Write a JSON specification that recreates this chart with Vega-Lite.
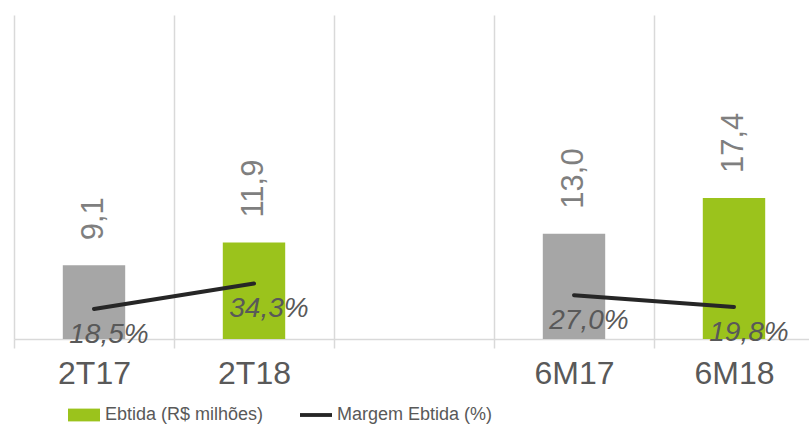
{
  "$schema": "https://vega.github.io/schema/vega-lite/v6.json",
  "width": 800,
  "height": 324,
  "autosize": {"type": "none"},
  "padding": {"left": 14, "top": 15, "right": 0, "bottom": 87},
  "background": "white",
  "config": {
    "view": {"stroke": null},
    "font": "Liberation Sans"
  },
  "data": {
    "values": [
      {"cat": "2T17", "ebitda": 9.1, "ebitda_lbl": "9,1", "margem": 18.5, "margem_lbl": "18,5%", "grupo": "2T", "ano": "17", "serie_bar": "Ebtida (R$ milhões)", "serie_line": "Margem Ebtida (%)"},
      {"cat": "2T18", "ebitda": 11.9, "ebitda_lbl": "11,9", "margem": 34.3, "margem_lbl": "34,3%", "grupo": "2T", "ano": "18", "serie_bar": "Ebtida (R$ milhões)", "serie_line": "Margem Ebtida (%)"},
      {"cat": "6M17", "ebitda": 13.0, "ebitda_lbl": "13,0", "margem": 27.0, "margem_lbl": "27,0%", "grupo": "6M", "ano": "17", "serie_bar": "Ebtida (R$ milhões)", "serie_line": "Margem Ebtida (%)"},
      {"cat": "6M18", "ebitda": 17.4, "ebitda_lbl": "17,4", "margem": 19.8, "margem_lbl": "19,8%", "grupo": "6M", "ano": "18", "serie_bar": "Ebtida (R$ milhões)", "serie_line": "Margem Ebtida (%)"}
    ]
  },
  "encoding": {
    "x": {
      "field": "cat",
      "type": "nominal",
      "sort": null,
      "scale": {"domain": ["2T17", "2T18", " ", "6M17", "6M18"], "paddingInner": 0, "paddingOuter": 0},
      "axis": {
        "title": null,
        "labelAngle": 0,
        "labelFontSize": 32,
        "labelColor": "#595959",
        "labelFont": "Liberation Sans",
        "labelPadding": 10,
        "domainColor": "#D9D9D9",
        "domainWidth": 1.5,
        "tickColor": "#D9D9D9",
        "tickSize": 9,
        "tickWidth": 1.5,
        "grid": true,
        "gridColor": "#D9D9D9",
        "gridWidth": 1.5,
        "tickBand": "extent"
      }
    }
  },
  "layer": [
    {
      "layer": [
        {
          "mark": {"type": "bar", "width": {"band": 0.39}},
          "encoding": {
            "y": {"field": "ebitda", "type": "quantitative", "scale": {"domain": [0, 40]}, "axis": null},
            "color": {
              "condition": {"test": "datum.ano === '17'", "value": "#A6A6A6"},
              "field": "serie_bar",
              "type": "nominal",
              "scale": {"domain": ["Ebtida (R$ milhões)", "Margem Ebtida (%)"], "range": ["#9BC31C", "#262626"]},
              "legend": {
                "orient": "none",
                "legendX": 54,
                "legendY": 384,
                "direction": "horizontal",
                "title": null,
                "symbolSize": 1024,
                "labelFontSize": 18,
                "labelLimit": 400,
                "labelFont": "Liberation Sans",
                "labelColor": "#595959",
                "labelOffset": 5,
                "columnPadding": 36,
                "padding": 0,
                "encode": {
                  "symbols": {
                    "update": {
                      "shape": {"signal": "datum.value === 'Margem Ebtida (%)' ? 'M-1,-0.12H1V0.12H-1Z' : 'M-1,-0.4H1V0.4H-1Z'"},
                      "fill": {"signal": "datum.value === 'Margem Ebtida (%)' ? '#262626' : '#9BC31C'"},
                      "stroke": {"value": "transparent"},
                      "strokeWidth": {"value": 0},
                      "opacity": {"value": 1}
                    }
                  }
                }
              }
            }
          }
        },
        {
          "mark": {"type": "text", "angle": 270, "align": "left", "baseline": "middle", "dx": 25, "fontSize": 31, "font": "Liberation Sans", "color": "#7F7F7F"},
          "encoding": {
            "y": {"field": "ebitda", "type": "quantitative", "scale": {"domain": [0, 40]}, "axis": null},
            "text": {"field": "ebitda_lbl"}
          }
        }
      ]
    },
    {
      "layer": [
        {
          "mark": {"type": "line", "strokeWidth": 4, "strokeCap": "round"},
          "encoding": {
            "y": {"field": "margem", "type": "quantitative", "scale": {"domain": [0, 200]}, "axis": null},
            "detail": {"field": "grupo"},
            "color": {"field": "serie_line", "type": "nominal"}
          }
        },
        {
          "mark": {"type": "text", "dx": 15, "dy": 26, "fontSize": 28, "fontStyle": "italic", "font": "Liberation Sans", "color": "#595959"},
          "encoding": {
            "y": {"field": "margem", "type": "quantitative", "scale": {"domain": [0, 200]}, "axis": null},
            "text": {"field": "margem_lbl"}
          }
        }
      ]
    }
  ],
  "resolve": {"scale": {"y": "independent"}}
}
